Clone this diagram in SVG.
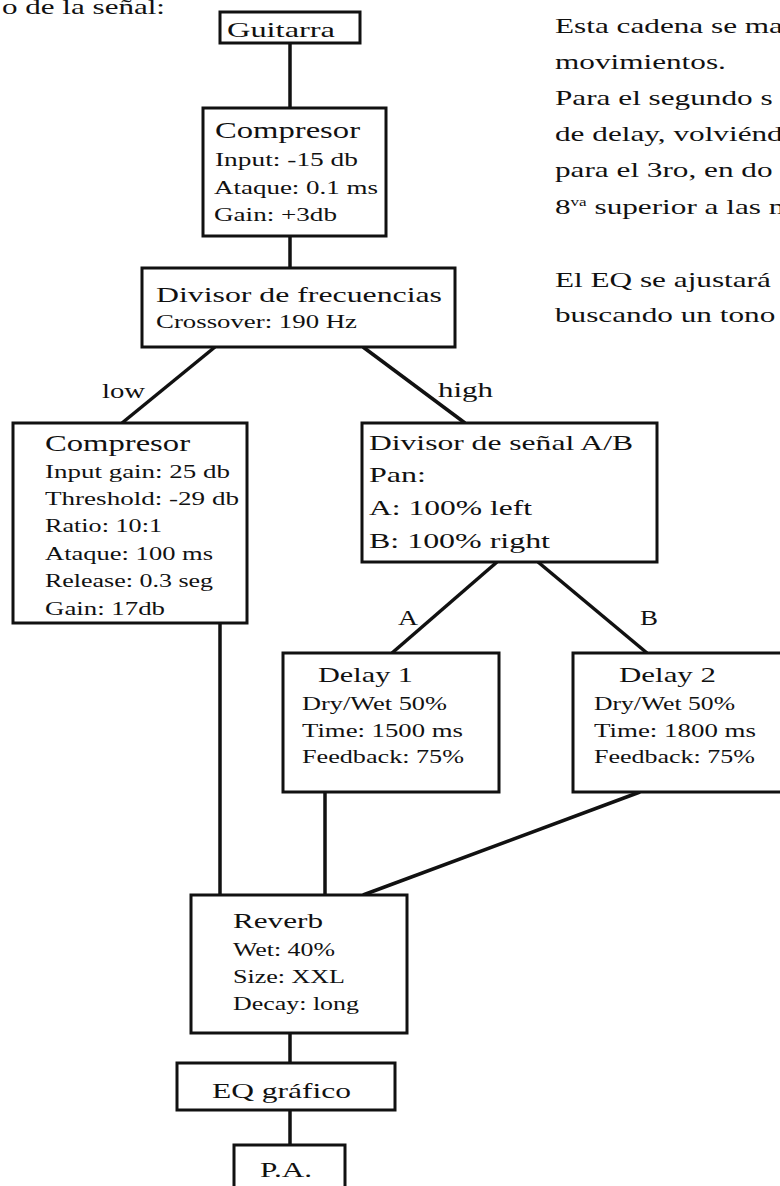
<svg xmlns="http://www.w3.org/2000/svg" width="780" height="1186" viewBox="0 0 780 1186">
<style>
text { font-family: "Liberation Serif", "Times New Roman", serif; fill: #111; }
.t { font-size: 23.5px; }
.s { font-size: 19.5px; }
.m { font-size: 22px; }
.l { font-size: 21px; }
.box { fill: #fff; stroke: #111; stroke-width: 3; }
.ln { stroke: #111; stroke-width: 3.5; fill: none; }
</style>
<rect width="780" height="1186" fill="#fff"/>

<g id="page-text">
<text x="2" y="14" class="m" textLength="163" lengthAdjust="spacingAndGlyphs">o de la señal:</text>
<g transform="translate(555,0) scale(1.42,1)">
<text x="0" y="33" class="m">Esta cadena se ma</text>
<text x="0" y="69" class="m">movimientos.</text>
<text x="0" y="105" class="m">Para el segundo s</text>
<text x="0" y="141" class="m">de delay, volviénd</text>
<text x="0" y="177" class="m">para el 3ro, en do</text>
<text x="0" y="214" class="m">8<tspan font-size="12" dy="-8">va</tspan><tspan dy="8"> superior a las m</tspan></text>
<text x="0" y="287" class="m">El EQ se ajustará</text>
<text x="0" y="322" class="m">buscando un tono</text>
</g>
</g>

<g id="connectors">
<line class="ln" x1="290" y1="43" x2="290" y2="108"/>
<line class="ln" x1="290" y1="236" x2="290" y2="268"/>
<line class="ln" x1="215" y1="347" x2="122" y2="423"/>
<line class="ln" x1="363" y1="347" x2="465" y2="423"/>
<line class="ln" x1="497" y1="562" x2="392" y2="653"/>
<line class="ln" x1="538" y1="562" x2="647" y2="653"/>
<line class="ln" x1="220" y1="623" x2="220" y2="895"/>
<line class="ln" x1="325" y1="792" x2="325" y2="895"/>
<line class="ln" x1="640" y1="792" x2="363" y2="895"/>
<line class="ln" x1="290" y1="1033" x2="290" y2="1063"/>
<line class="ln" x1="290" y1="1110" x2="290" y2="1145"/>
<text x="102" y="398" class="l" textLength="43" lengthAdjust="spacingAndGlyphs">low</text>
<text x="438" y="397" class="l" textLength="55" lengthAdjust="spacingAndGlyphs">high</text>
<text x="398" y="625" class="l" textLength="20" lengthAdjust="spacingAndGlyphs">A</text>
<text x="640" y="625" class="l" textLength="18" lengthAdjust="spacingAndGlyphs">B</text>
</g>

<g id="guitarra">
<rect class="box" x="220" y="12" width="140" height="31"/>
<text x="227" y="37" class="m" textLength="108" lengthAdjust="spacingAndGlyphs">Guitarra</text>
</g>

<g id="compresor1">
<rect class="box" x="203" y="108" width="183" height="128"/>
<text x="215" y="138" class="t" textLength="145" lengthAdjust="spacingAndGlyphs">Compresor</text>
<text x="215" y="166" class="s" textLength="143" lengthAdjust="spacingAndGlyphs">Input: -15 db</text>
<text x="214" y="194" class="s" textLength="164" lengthAdjust="spacingAndGlyphs">Ataque: 0.1 ms</text>
<text x="214" y="221" class="s" textLength="123" lengthAdjust="spacingAndGlyphs">Gain: +3db</text>
</g>

<g id="divisor-frecuencias">
<rect class="box" x="142" y="268" width="313" height="79"/>
<text x="156" y="302" class="m" textLength="286" lengthAdjust="spacingAndGlyphs">Divisor de frecuencias</text>
<text x="156" y="328" class="s" textLength="201" lengthAdjust="spacingAndGlyphs">Crossover: 190 Hz</text>
</g>

<g id="compresor2">
<rect class="box" x="13" y="423" width="234" height="200"/>
<text x="45" y="451" class="t" textLength="145" lengthAdjust="spacingAndGlyphs">Compresor</text>
<text x="45" y="478" class="s" textLength="185" lengthAdjust="spacingAndGlyphs">Input gain: 25 db</text>
<text x="45" y="505" class="s" textLength="194" lengthAdjust="spacingAndGlyphs">Threshold: -29 db</text>
<text x="45" y="532" class="s" textLength="117" lengthAdjust="spacingAndGlyphs">Ratio: 10:1</text>
<text x="45" y="560" class="s" textLength="168" lengthAdjust="spacingAndGlyphs">Ataque: 100 ms</text>
<text x="45" y="587" class="s" textLength="168" lengthAdjust="spacingAndGlyphs">Release: 0.3 seg</text>
<text x="45" y="615" class="s" textLength="120" lengthAdjust="spacingAndGlyphs">Gain: 17db</text>
</g>

<g id="divisor-senal">
<rect class="box" x="362" y="423" width="295" height="139"/>
<text x="369" y="450" class="m" textLength="264" lengthAdjust="spacingAndGlyphs">Divisor de señal A/B</text>
<text x="369" y="482" class="m" textLength="57" lengthAdjust="spacingAndGlyphs">Pan:</text>
<text x="369" y="515" class="m" textLength="163" lengthAdjust="spacingAndGlyphs">A: 100% left</text>
<text x="369" y="548" class="m" textLength="181" lengthAdjust="spacingAndGlyphs">B: 100% right</text>
</g>

<g id="delay1">
<rect class="box" x="283" y="653" width="216" height="139"/>
<text x="318" y="682" class="m" textLength="95" lengthAdjust="spacingAndGlyphs">Delay 1</text>
<text x="302" y="710" class="s" textLength="145" lengthAdjust="spacingAndGlyphs">Dry/Wet 50%</text>
<text x="302" y="737" class="s" textLength="161" lengthAdjust="spacingAndGlyphs">Time: 1500 ms</text>
<text x="302" y="763" class="s" textLength="162" lengthAdjust="spacingAndGlyphs">Feedback: 75%</text>
</g>

<g id="delay2">
<rect class="box" x="573" y="653" width="220" height="139"/>
<text x="619" y="682" class="m" textLength="97" lengthAdjust="spacingAndGlyphs">Delay 2</text>
<text x="594" y="710" class="s" textLength="141" lengthAdjust="spacingAndGlyphs">Dry/Wet 50%</text>
<text x="594" y="737" class="s" textLength="162" lengthAdjust="spacingAndGlyphs">Time: 1800 ms</text>
<text x="594" y="763" class="s" textLength="161" lengthAdjust="spacingAndGlyphs">Feedback: 75%</text>
</g>

<g id="reverb">
<rect class="box" x="191" y="895" width="216" height="138"/>
<text x="233" y="928" class="m" textLength="90" lengthAdjust="spacingAndGlyphs">Reverb</text>
<text x="233" y="956" class="s" textLength="102" lengthAdjust="spacingAndGlyphs">Wet: 40%</text>
<text x="233" y="983" class="s" textLength="112" lengthAdjust="spacingAndGlyphs">Size: XXL</text>
<text x="233" y="1010" class="s" textLength="126" lengthAdjust="spacingAndGlyphs">Decay: long</text>
</g>

<g id="eq">
<rect class="box" x="177" y="1063" width="218" height="47"/>
<text x="212" y="1098" class="m" textLength="139" lengthAdjust="spacingAndGlyphs">EQ gráfico</text>
</g>

<g id="pa">
<rect class="box" x="234" y="1145" width="111" height="60"/>
<text x="260" y="1177" class="m" textLength="52" lengthAdjust="spacingAndGlyphs">P.A.</text>
</g>
</svg>
